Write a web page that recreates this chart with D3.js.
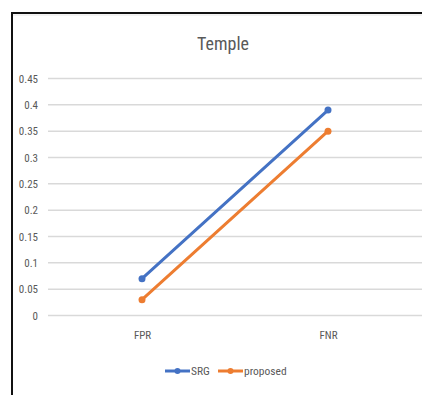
<!DOCTYPE html>
<html><head><meta charset="utf-8">
<script src="https://cdn.jsdelivr.net/npm/d3@7"></script>
<style>body{margin:0;background:#fff}svg{display:block}</style>
</head><body>
<script>
const categories = ["FPR", "FNR"];
const srg = [0.07, 0.39];
const proposed = [0.03, 0.35];
const yTicks = [0, 0.05, 0.1, 0.15, 0.2, 0.25, 0.3, 0.35, 0.4, 0.45];
const seriesNames = ["SRG", "proposed"];
const colors = ["#4472C4", "#ED7D31"];

const W = 422, H = 395;
const font = "'Liberation Sans Narrow','Roboto Condensed','DejaVu Sans Condensed',sans-serif";
const svg = d3.select("body").append("svg").attr("width", W).attr("height", H);

// frame
svg.append("line").attr("x1", 12).attr("x2", 12).attr("y1", 12).attr("y2", H).attr("stroke", "#111").attr("stroke-width", 2);
svg.append("line").attr("x1", 11).attr("x2", W).attr("y1", 13).attr("y2", 13).attr("stroke", "#111").attr("stroke-width", 2);
svg.append("line").attr("x1", 13).attr("x2", W).attr("y1", 15).attr("y2", 15).attr("stroke", "#e6e6e6").attr("stroke-width", 1);

const x = d3.scalePoint().domain(categories).range([142, 328]);
const y = d3.scaleLinear().domain([0, 0.45]).range([315.5, 78.5]);

const yAxis = d3.axisLeft(y).tickValues(yTicks).tickSize(0).tickPadding(10).tickFormat(d => String(+d.toFixed(2)));
const gy = svg.append("g").attr("transform", "translate(48,0)").call(yAxis);
gy.select(".domain").remove();
gy.selectAll("text").attr("font-family", font).attr("font-size", 11).attr("fill", "#595959");

svg.append("g").selectAll("line").data(yTicks).join("line")
  .attr("x1", 48).attr("x2", W).attr("y1", d => y(d)).attr("y2", d => y(d))
  .attr("stroke", "#d9d9d9").attr("stroke-width", 1.5);

const xAxis = d3.axisBottom(x).tickSize(0).tickPadding(16);
const gx = svg.append("g").attr("transform", `translate(0,${y(0)})`).call(xAxis);
gx.select(".domain").remove();
gx.selectAll("text").attr("font-family", font).attr("font-size", 11).attr("fill", "#595959");

svg.append("text").attr("x", 223).attr("y", 50).attr("text-anchor", "middle")
  .attr("font-family", font).attr("font-size", 18).attr("fill", "#595959").text("Temple");

const series = [srg, proposed];
const line = d3.line().x((d, i) => x(categories[i])).y(d => y(d));
series.forEach((s, k) => {
  svg.append("path").datum(s).attr("d", line).attr("fill", "none")
    .attr("stroke", colors[k]).attr("stroke-width", 3).attr("stroke-linecap", "round");
  svg.append("g").selectAll("circle").data(s).join("circle")
    .attr("cx", (d, i) => x(categories[i])).attr("cy", d => y(d)).attr("r", 3.5).attr("fill", colors[k]);
});

// legend
const legX = [165, 218];
seriesNames.forEach((n, k) => {
  const g = svg.append("g").attr("transform", `translate(${legX[k]},371)`);
  g.append("line").attr("x1", 0).attr("x2", 25).attr("stroke", colors[k]).attr("stroke-width", 3);
  g.append("circle").attr("cx", 12.5).attr("r", 3).attr("fill", colors[k]);
  g.append("text").attr("x", 26).attr("y", 4).attr("font-family", font).attr("font-size", 11.5).attr("fill", "#595959").text(n);
});
</script>
</body></html>
